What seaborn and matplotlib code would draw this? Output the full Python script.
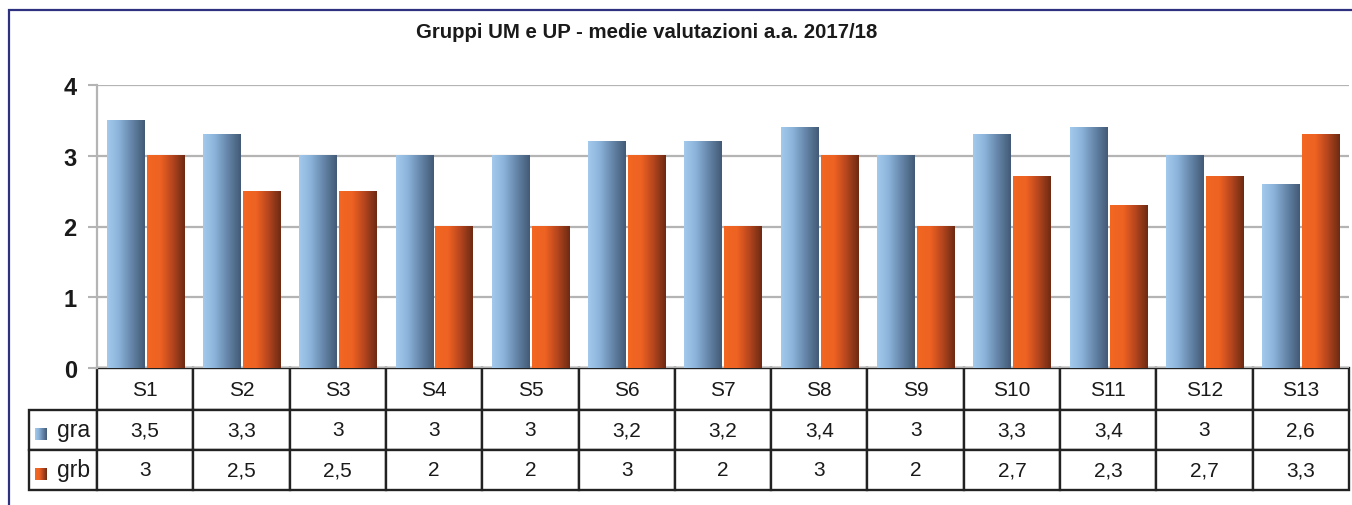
import numpy as np
import matplotlib
matplotlib.use("Agg")
import matplotlib.pyplot as plt
import seaborn as sns
import pandas as pd
from matplotlib.colors import LinearSegmentedColormap
from matplotlib.table import Table
from matplotlib.patches import Rectangle

# --- Data ---
sessions = ["S1", "S2", "S3", "S4", "S5", "S6", "S7", "S8", "S9", "S10", "S11", "S12", "S13"]
gra = [3.5, 3.3, 3, 3, 3, 3.2, 3.2, 3.4, 3, 3.3, 3.4, 3, 2.6]
grb = [3, 2.5, 2.5, 2, 2, 3, 2, 3, 2, 2.7, 2.3, 2.7, 3.3]
groups = ["gra", "grb"]
title = "Gruppi UM e UP - medie valutazioni a.a. 2017/18"

df = pd.DataFrame({
    "Sessione": sessions * 2,
    "Gruppo": ["gra"] * len(sessions) + ["grb"] * len(sessions),
    "Media": gra + grb,
})

sns.set_theme(style="white")
plt.rcParams["font.family"] = ["Liberation Sans", "DejaVu Sans"]

cmaps = {
    "gra": LinearSegmentedColormap.from_list(
        "blu", [(0, "#A3CAEC"), (0.3, "#8DB5DC"), (0.6, "#6A8CB0"), (1, "#425A76")]),
    "grb": LinearSegmentedColormap.from_list(
        "ora", [(0, "#F36723"), (0.35, "#EE6222"), (0.65, "#BA471F"), (1, "#6C2A13")]),
}
grad = np.linspace(0, 1, 256).reshape(1, -1)

W, H = 1352, 506
fig = plt.figure(figsize=(W / 100, H / 100), dpi=100)
ax_w = 1349 - 97
ax_h = 369 - 86
ax = fig.add_axes([97 / W, 1 - 369 / H, ax_w / W, ax_h / H])

sns.barplot(data=df, x="Sessione", y="Media", hue="Gruppo", hue_order=groups,
            palette=["#8DB5DC", "#EE6222"], width=0.83, gap=0.07, legend=False, ax=ax)

# gradient fill on every bar
for i, cont in enumerate(ax.containers):
    cm = cmaps[groups[i]]
    for p in cont.patches:
        x0, y0 = p.get_x(), p.get_y()
        w, h = p.get_width(), p.get_height()
        ax.imshow(grad, extent=[x0, x0 + w, y0, y0 + h], aspect="auto", cmap=cm, zorder=3)
        p.set_visible(False)

ax.set_xlim(-0.5, len(sessions) - 0.5)
ax.set_ylim(0, 4)
ax.set_aspect("auto")
ax.set_yticks([0, 1, 2, 3, 4])
ax.yaxis.grid(True, color="#B4B4B4", linewidth=1.6, zorder=0)
ax.set_axisbelow(True)
ax.tick_params(axis="y", length=6.5, width=1.5, color="#B4B4B4", pad=8, labelsize=17, left=True)
for t in ax.get_yticklabels():
    t.set_fontweight("bold")
    t.set_color("#1A1A1A")
ax.set_xticks([])
ax.set_xlabel("")
ax.set_ylabel("")
for s in ["top", "right", "bottom"]:
    ax.spines[s].set_visible(False)
ax.spines["left"].set_color("#B4B4B4")
ax.spines["left"].set_linewidth(1.6)

# --- data table below the axes (sizes in axes fractions) ---
tab_h = (491 - 369) / ax_h
tab = Table(ax, bbox=[0, -tab_h, 1, tab_h])
colw = 1 / len(sessions)
hdr_h, row_h = 42 / ax_h, 40 / ax_h
fmt = lambda v: f"{v:g}".replace(".", ",")
for j, s in enumerate(sessions):
    tab.add_cell(0, j, width=colw, height=hdr_h, text=s, loc="center")
for r, (name, vals) in enumerate(zip(groups, [gra, grb]), start=1):
    tab.add_cell(r, -1, width=68 / ax_w, height=row_h, text=name, loc="right")
    for j, v in enumerate(vals):
        tab.add_cell(r, j, width=colw, height=row_h, text=fmt(v), loc="center")
tab.auto_set_font_size(False)
tab.set_fontsize(15)
for cell in tab.get_celld().values():
    cell.set_edgecolor("#222222")
    cell.set_linewidth(1.7)
    cell.get_text().set_color("#1A1A1A")
tab[(1, -1)].get_text().set_fontsize(16.5)
tab[(2, -1)].get_text().set_fontsize(16.5)
ax.add_table(tab)

# legend keys in the row label cells
for name, ytop in zip(groups, [429, 469]):
    kax = fig.add_axes([35 / W, 1 - (ytop + 12) / H, 12 / W, 12 / H])
    kax.imshow(grad, aspect="auto", cmap=cmaps[name])
    kax.set_axis_off()

fig.text(0.478, 1 - 33 / H, title, ha="center", va="center", fontsize=14.7,
         fontweight="bold", color="#1A1A1A")

# navy frame (only top and left visible in the crop)
fig.patches.append(Rectangle((9 / W, -0.2), 1.2, 1 - 11 / H + 0.2, transform=fig.transFigure,
                             fill=False, edgecolor="#2E3180", linewidth=1.6, clip_on=False))

fig.savefig("out.png", dpi=100)
